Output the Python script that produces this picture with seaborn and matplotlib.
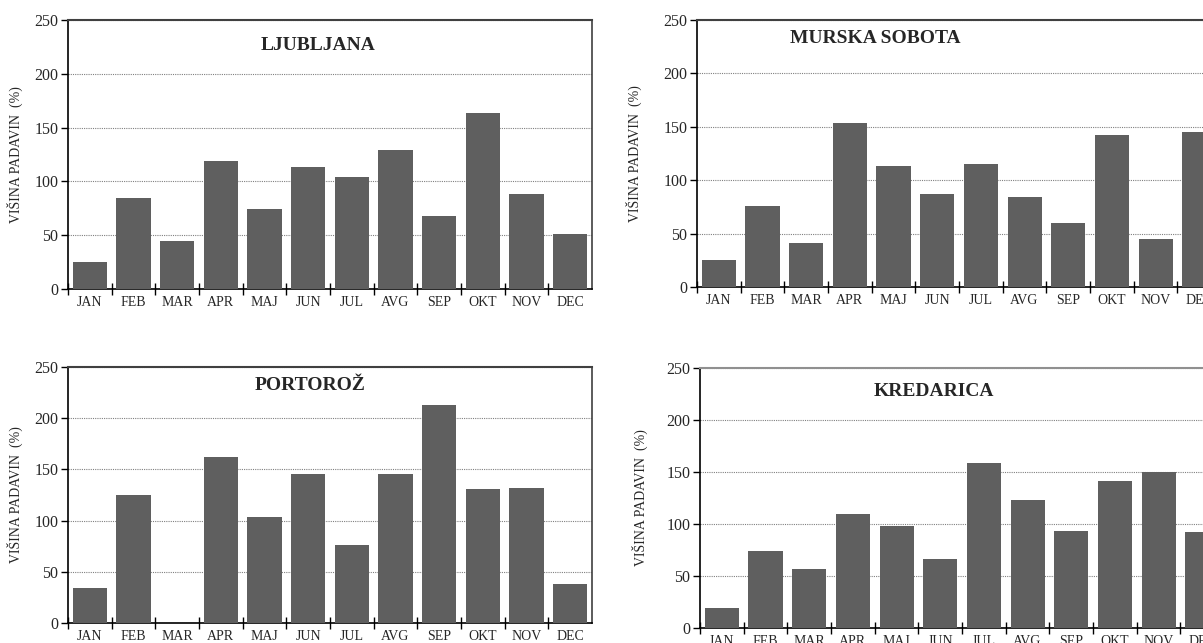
import matplotlib
matplotlib.use("Agg")
import matplotlib.pyplot as plt
from matplotlib.ticker import FixedLocator
import pandas as pd
import seaborn as sns

months = ["JAN", "FEB", "MAR", "APR", "MAJ", "JUN", "JUL", "AVG", "SEP", "OKT", "NOV", "DEC"]

ljubljana = [25, 85, 45, 119, 74, 113, 104, 129, 68, 164, 88, 51]
murska_sobota = [25, 76, 41, 154, 113, 87, 115, 84, 60, 142, 45, 145]
portoroz = [34, 125, 0, 162, 104, 146, 76, 146, 213, 131, 132, 38]
kredarica = [19, 74, 57, 110, 98, 66, 159, 123, 93, 141, 150, 92]

stations = ["LJUBLJANA", "MURSKA SOBOTA", "PORTOROŽ", "KREDARICA"]
series = [ljubljana, murska_sobota, portoroz, kredarica]

sns.set_style("white")
plt.rcParams["font.family"] = ["Liberation Serif", "DejaVu Serif"]

fig = plt.figure(figsize=(12.03, 6.43), dpi=100)

# axes boxes [left, bottom, width, height], title pos, ylabel x, top spine colour
panels = [
    ([0.0565, 0.5505, 0.4356, 0.4184], (0.477, 0.907), -0.085, "#404040"),
    ([0.5794, 0.5537, 0.4356, 0.4152], (0.34, 0.93), -0.105, "#404040"),
    ([0.0565, 0.0311, 0.4356, 0.3981], (0.462, 0.926), -0.085, "#404040"),
    ([0.5819, 0.0233, 0.4356, 0.4044], (0.447, 0.91), -0.10, "#909090"),
]

bar_color = "#5f5f5f"

for (box, tpos, ylx, topc), name, vals in zip(panels, stations, series):
    ax = fig.add_axes(box)
    df = pd.DataFrame({"month": months, "value": vals})
    sns.barplot(data=df, x="month", y="value", color=bar_color, saturation=1,
                width=0.78, linewidth=0, ax=ax, zorder=3)
    ax.set_xlim(-0.5, 11.5)
    ax.set_ylim(0, 250)
    ax.set_yticks([0, 50, 100, 150, 200, 250])
    ax.yaxis.grid(True, linestyle=(0, (1, 1)), color="#808080", linewidth=0.8)
    ax.set_axisbelow(True)
    ax.xaxis.set_minor_locator(FixedLocator([i - 0.5 for i in range(12)]))
    ax.tick_params(axis="x", which="major", length=0, labelsize=10, pad=5)
    ax.tick_params(axis="x", which="minor", direction="inout", length=8,
                   width=1, color="black", bottom=True)
    ax.tick_params(axis="y", direction="out", length=5, width=1, color="black",
                   labelsize=11.5, pad=2, left=True)
    for side in ["left", "bottom"]:
        ax.spines[side].set_color("black")
        ax.spines[side].set_linewidth(1.2)
    ax.spines["right"].set_color("#404040")
    ax.spines["right"].set_linewidth(1.2)
    ax.spines["top"].set_color(topc)
    ax.spines["top"].set_linewidth(1.5)
    ax.set_xlabel("")
    ax.set_ylabel("VIŠINA PADAVIN  (%)", fontsize=10)
    ax.yaxis.set_label_coords(ylx, 0.5)
    ax.text(tpos[0], tpos[1], name, transform=ax.transAxes, ha="center",
            va="center", fontsize=14, fontweight="bold")

fig.savefig("out.png", dpi=100)
